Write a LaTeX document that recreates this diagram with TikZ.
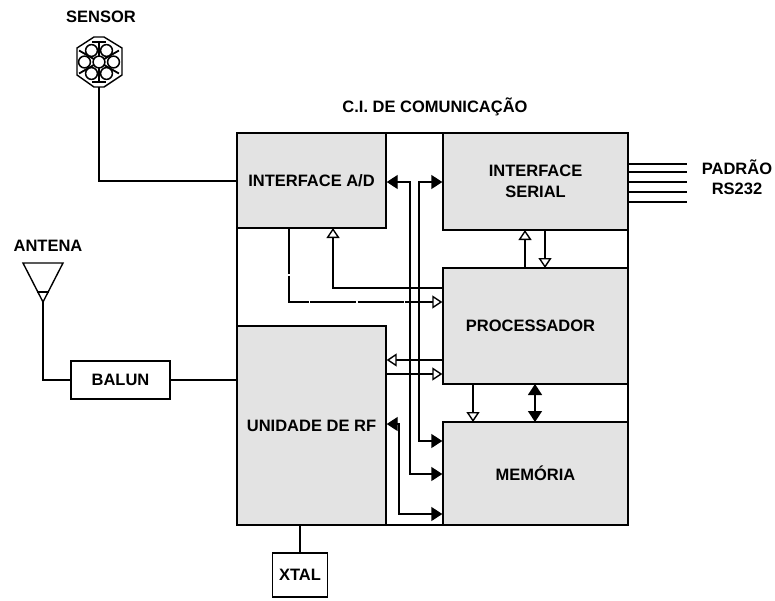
\documentclass[tikz,border=0pt]{standalone}
\usepackage{fontspec}
\setmainfont{Liberation Sans}
\usetikzlibrary{arrows.meta}
\tikzset{
  x=1pt,y=-1pt,
  every path/.style={line width=1.4pt},
  blockbox/.style={draw=black,fill=black!11,line width=1.4pt,inner sep=0pt,font=\fontsize{16.5}{20}\bfseries\selectfont,align=center},
  whitebox/.style={draw=black,fill=white,line width=1.4pt,inner sep=0pt,font=\fontsize{16.5}{20}\bfseries\selectfont,align=center},
  lbl/.style={inner sep=0pt,font=\fontsize{16.5}{20}\bfseries\selectfont,align=center},
  openhead/.style={-{Triangle[open,fill=white,length=10pt,width=13pt,line width=1.4pt]}},
  openend/.style={{Triangle[open,fill=white,length=10pt,width=13pt,line width=1.4pt]}-},
  solidboth/.style={{Triangle[length=11pt,width=14pt]}-{Triangle[length=11pt,width=14pt]}},
  dashdotline/.style={dash pattern=on 46pt off 1.5pt},
}
\begin{document}
\begin{tikzpicture}
\useasboundingbox (0,0) rectangle (775,600);
% chip outline
\draw (237,228) -- (237,326);
\draw (628,230) -- (628,268);
\draw (628,384) -- (628,422);
\draw (386,133) -- (443,133);
\draw (386,525) -- (443,525);
\node[blockbox,minimum width=149pt,minimum height=95pt] (ad) at (311.5,180.5) {INTERFACE A/D};
\node[blockbox,minimum width=185pt,minimum height=97pt] (serial) at (535.5,181.5) {INTERFACE\\[1pt]SERIAL};
\node[blockbox,minimum width=185pt,minimum height=116pt] (proc) at (535.5,326) {\hspace*{-10pt}PROCESSADOR};
\node[blockbox,minimum width=149pt,minimum height=199pt] (rf) at (311.5,425.5) {UNIDADE DE RF};
\node[blockbox,minimum width=185pt,minimum height=103pt] (mem) at (535.5,473.5) {MEMÓRIA};
\node[whitebox,minimum width=99pt,minimum height=38pt] (balun) at (120.5,380) {BALUN};
\node[whitebox,minimum width=55pt,minimum height=44pt] (xtal) at (300,575) {XTAL};
% labels
\node[lbl] (tsensor) at (101,17) {SENSOR};
\node[lbl] (tant) at (48,246) {ANTENA};
\node[lbl] (tci) at (435,107) {C.I. DE COMUNICAÇÃO};
\node[lbl] (trs) at (737,177) {PADRÃO\\RS232};
% sensor icon
\coordinate (s) at (99,62);
\draw[fill=white] (94,37) -- (104,37) -- (122,48) -- (122,75) -- (104,87) -- (94,87) -- (77,75) -- (77,48) -- cycle;
\draw (92,42) -- (106,42);
\draw (92,82) -- (106,82);
\draw[line width=1.8pt] (99,42) -- (99,82);
\foreach \ang in {30,150,210,330}{
  \draw[line width=1.8pt] (s) -- ++(\ang:23);
}
\foreach \a/\b in {0/0,-7.5/-11.5,7.5/-11.5,14.5/0,7.5/11.5,-7.5/11.5,-14.5/0}{
  \draw[fill=white,line width=1.5pt] ([shift={(\a,\b)}]s) circle (5.9pt);
}
\coordinate (sbot) at (99,87);
\draw (sbot) |- (ad.west |- 0,181);
% antenna
\coordinate (anta) at (23,263);
\coordinate (antb) at (63,263);
\coordinate (antc) at (43,302);
\draw[line join=miter] (anta) -- (antb) -- (antc) -- cycle;
\draw (37,292) -- (49,292);
\draw (antc) |- (balun.west);
\draw (balun.east) -- (rf.west |- balun.east);
\draw (xtal.north) -- (xtal.north |- rf.south);
% RS232
\foreach \yy in {164,172,182,192,202}{
  \draw (628,\yy) -- (687,\yy);
}
% bus arrows
\coordinate (ad1) at (ad.east |- 0,182);
\coordinate (se1) at (serial.west |- 0,182);
\coordinate (m1) at (mem.west |- 0,441);
\coordinate (m2) at (mem.west |- 0,474);
\coordinate (m3) at (mem.west |- 0,514);
\coordinate (rf1) at (rf.east |- 0,424);
\draw[solidboth] (ad1) -| (410,474) -- (m2);
\draw[solidboth] (se1) -| (419,441) -- (m1);
\draw[solidboth] (rf1) -| (399,514) -- (m3);
% processor links
\draw[dashdotline,openhead] (289,228) |- (proc.west |- 0,302);
\draw[openend] (333,228) |- (proc.west |- 0,288);
\draw[openhead] (proc.west |- 0,360) -- (rf.east |- 0,360);
\draw[openhead] (rf.east |- 0,374) -- (proc.west |- 0,374);
\draw[openend] (525,230) -- (525,268);
\draw[openhead] (545,230) -- (545,268);
\draw[openhead] (473,384) -- (473,422);
\draw[solidboth] (535,384) -- (535,422);
\end{tikzpicture}
\end{document}
